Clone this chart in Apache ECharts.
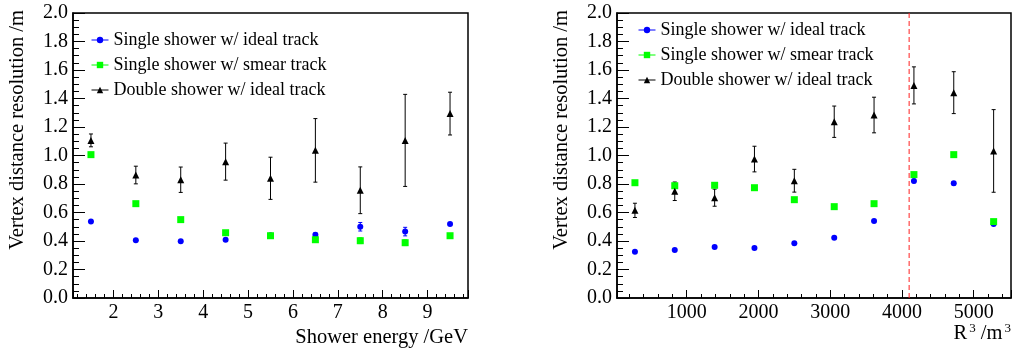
<!DOCTYPE html>
<html>
<head>
<meta charset="utf-8">
<script src="https://cdn.jsdelivr.net/npm/echarts@6/dist/echarts.min.js"></script>
<style>
html,body{margin:0;padding:0;background:#fff;}
#chart{width:1013px;height:351px;}
</style>
</head>
<body>
<div id="chart"></div>
<script>
// ---- data ----
const seriesNames = ['Single shower w/ ideal track', 'Single shower w/ smear track', 'Double shower w/ ideal track'];

const energy = [1.5, 2.5, 3.5, 4.5, 5.5, 6.5, 7.5, 8.5, 9.5];
const singleIdealE = [0.536, 0.405, 0.398, 0.409, 0.440, 0.444, 0.500, 0.466, 0.519];
const singleIdealEErr = [0.006, 0.006, 0.006, 0.008, 0.010, 0.012, 0.030, 0.030, 0.010];
const singleSmearE = [1.006, 0.662, 0.550, 0.458, 0.437, 0.409, 0.402, 0.388, 0.437];
const singleSmearEErr = [0.010, 0.008, 0.008, 0.008, 0.008, 0.010, 0.020, 0.020, 0.010];
const doubleE = [1.106, 0.863, 0.830, 0.957, 0.840, 1.036, 0.756, 1.106, 1.294];
const doubleEErr = [0.045, 0.062, 0.089, 0.130, 0.148, 0.223, 0.164, 0.323, 0.150];

const r3 = [278, 833, 1389, 1944, 2500, 3056, 3611, 4167, 4722, 5278];
const singleIdealR = [0.325, 0.337, 0.358, 0.351, 0.384, 0.423, 0.540, 0.821, 0.805, 0.520];
const singleIdealRErr = [0.006, 0.006, 0.006, 0.006, 0.006, 0.008, 0.010, 0.012, 0.012, 0.010];
const singleSmearR = [0.809, 0.788, 0.791, 0.774, 0.690, 0.641, 0.662, 0.866, 1.006, 0.536];
const singleSmearRErr = [0.008, 0.008, 0.008, 0.008, 0.008, 0.008, 0.010, 0.012, 0.015, 0.015];
const doubleR = [0.615, 0.749, 0.704, 0.975, 0.823, 1.237, 1.284, 1.492, 1.441, 1.032];
const doubleRErr = [0.050, 0.065, 0.060, 0.090, 0.080, 0.110, 0.125, 0.130, 0.147, 0.290];

const yTicks = [0, 0.2, 0.4, 0.6, 0.8, 1.0, 1.2, 1.4, 1.6, 1.8, 2.0];
const cutR3 = 4100;

const yTitle = 'Vertex distance resolution /m';
const xTitleLeft = 'Shower energy /GeV';

// ---- style ----
const FONT = 'Liberation Serif';
const colors = ['#0000ff', '#00ff00', '#000000'];
const symbols = ['circle', 'rect', 'triangle'];
const symbolSizes = [6, 7, 7];

function pairs(xs, ys, es) { return xs.map((x, i) => [x, ys[i], es[i]]); }

function errSeries(grid, data, color) {
  return {
    type: 'custom', xAxisIndex: grid, yAxisIndex: grid, z: 1,
    encode: { x: 0, y: 1 }, silent: true,
    data: data,
    renderItem: function (params, api) {
      const x = api.value(0), y = api.value(1), e = api.value(2);
      const t = api.coord([x, y + e]);
      const b = api.coord([x, y - e]);
      const st = { stroke: color, lineWidth: 1 };
      return {
        type: 'group', children: [
          { type: 'line', shape: { x1: t[0], y1: t[1], x2: b[0], y2: b[1] }, style: st },
          { type: 'line', shape: { x1: t[0] - 2, y1: t[1], x2: t[0] + 2, y2: t[1] }, style: st },
          { type: 'line', shape: { x1: b[0] - 2, y1: b[1], x2: b[0] + 2, y2: b[1] }, style: st }
        ]
      };
    }
  };
}

function ptSeries(grid, k, data) {
  return {
    name: seriesNames[k], type: 'line', xAxisIndex: grid, yAxisIndex: grid, z: 2 + k,
    data: data.map(d => [d[0], d[1]]),
    symbol: symbols[k], symbolSize: symbolSizes[k], showSymbol: true, showAllSymbol: true,
    color: colors[k], itemStyle: { color: colors[k] },
    lineStyle: { width: 0, color: colors[k] },
    emphasis: { disabled: true }
  };
}

const gridsDef = [
  { left: 73, top: 13, width: 395, height: 285 },
  { left: 617, top: 13, width: 394, height: 285 }
];

const labelStyle = { fontSize: 20, fontFamily: FONT, fontStyle: 'normal', fontWeight: 'normal', color: '#000' };

function xAxisDef(grid, min, max, step) {
  return {
    type: 'value', gridIndex: grid, min: min, max: max,
    minInterval: step, maxInterval: step, splitNumber: 9,
    axisLine: { show: true, onZero: false, lineStyle: { color: '#000', width: 1.5 } },
    axisTick: { show: true, inside: true, length: 8, lineStyle: { color: '#000', width: 1 } },
    minorTick: { show: true, splitNumber: 5, length: 4, lineStyle: { color: '#000', width: 1 } },
    axisLabel: Object.assign({ showMinLabel: false, showMaxLabel: false, margin: 5,
      formatter: v => String(v) }, labelStyle),
    splitLine: { show: false }, minorSplitLine: { show: false }
  };
}
function yAxisDef(grid) {
  return {
    type: 'value', gridIndex: grid, min: yTicks[0], max: yTicks[yTicks.length - 1], interval: yTicks[1] - yTicks[0],
    axisLine: { show: true, onZero: false, lineStyle: { color: '#000', width: 1.5 } },
    axisTick: { show: true, inside: true, length: 12, lineStyle: { color: '#000', width: 1 } },
    minorTick: { show: true, splitNumber: 4, length: 6, lineStyle: { color: '#000', width: 1 } },
    axisLabel: Object.assign({ margin: 5, formatter: v => v.toFixed(1) }, labelStyle),
    splitLine: { show: false }, minorSplitLine: { show: false }
  };
}

function legendDef(left, top) {
  return {
    orient: 'vertical', left: left, top: top, padding: 0, itemGap: 5,
    itemWidth: 17, itemHeight: 8, selectedMode: false,
    data: seriesNames,
    lineStyle: { width: 1, opacity: 1 },
    textStyle: { fontSize: 18, fontFamily: FONT, color: '#000', lineHeight: 20 }
  };
}

const option = {
  animation: false,
  backgroundColor: '#fff',
  textStyle: { fontFamily: FONT, color: '#000' },
  grid: gridsDef.map(g => Object.assign({ show: true, borderColor: '#000', borderWidth: 1.5, backgroundColor: 'transparent' }, g)),
  xAxis: [xAxisDef(0, 1.1, 9.9, 1), xAxisDef(1, 28, 5520, 1000)],
  yAxis: [yAxisDef(0), yAxisDef(1)],
  legend: [legendDef(91, 30), legendDef(638, 20)],
  series: [
    errSeries(0, pairs(energy, singleIdealE, singleIdealEErr), colors[0]),
    errSeries(0, pairs(energy, singleSmearE, singleSmearEErr), colors[1]),
    errSeries(0, pairs(energy, doubleE, doubleEErr), colors[2]),
    ptSeries(0, 0, pairs(energy, singleIdealE, singleIdealEErr)),
    ptSeries(0, 1, pairs(energy, singleSmearE, singleSmearEErr)),
    ptSeries(0, 2, pairs(energy, doubleE, doubleEErr)),
    {
      type: 'line', xAxisIndex: 1, yAxisIndex: 1, z: 1, silent: true,
      data: [[cutR3, yTicks[0]], [cutR3, yTicks[yTicks.length - 1]]],
      showSymbol: false, symbol: 'none',
      lineStyle: { color: '#ff2020', type: [5, 3], width: 1 },
      emphasis: { disabled: true }
    },
    errSeries(1, pairs(r3, singleIdealR, singleIdealRErr), colors[0]),
    errSeries(1, pairs(r3, singleSmearR, singleSmearRErr), colors[1]),
    errSeries(1, pairs(r3, doubleR, doubleRErr), colors[2]),
    ptSeries(1, 0, pairs(r3, singleIdealR, singleIdealRErr)),
    ptSeries(1, 1, pairs(r3, singleSmearR, singleSmearRErr)),
    ptSeries(1, 2, pairs(r3, doubleR, doubleRErr))
  ],
  graphic: [
    { type: 'text', x: 18, y: 10, rotation: Math.PI / 2, style: { text: yTitle, font: "20.5px " + FONT, fill: '#000', align: 'right', verticalAlign: 'middle' } },
    { type: 'text', x: 562, y: 10, rotation: Math.PI / 2, style: { text: yTitle, font: "20.5px " + FONT, fill: '#000', align: 'right', verticalAlign: 'middle' } },
    { type: 'text', x: 468, y: 338, style: { text: xTitleLeft, font: "20.5px " + FONT, fill: '#000', align: 'right', verticalAlign: 'middle' } },
    { type: 'text', x: 1011, y: 333, style: {
        text: '{n|R}{s|3}{n| /m}{s|3}', fill: '#000', align: 'right', verticalAlign: 'middle',
        rich: {
          n: { fontSize: 20.5, fontFamily: FONT, lineHeight: 22, padding: [8, 0, 0, 0], verticalAlign: 'bottom' },
          s: { fontSize: 13, fontFamily: FONT, lineHeight: 13, padding: [0, 0, 0, 2], verticalAlign: 'top' }
        }
      } }
  ]
};

const chart = echarts.init(document.getElementById('chart'), null, { renderer: 'canvas' });
chart.setOption(option);
</script>
</body>
</html>
